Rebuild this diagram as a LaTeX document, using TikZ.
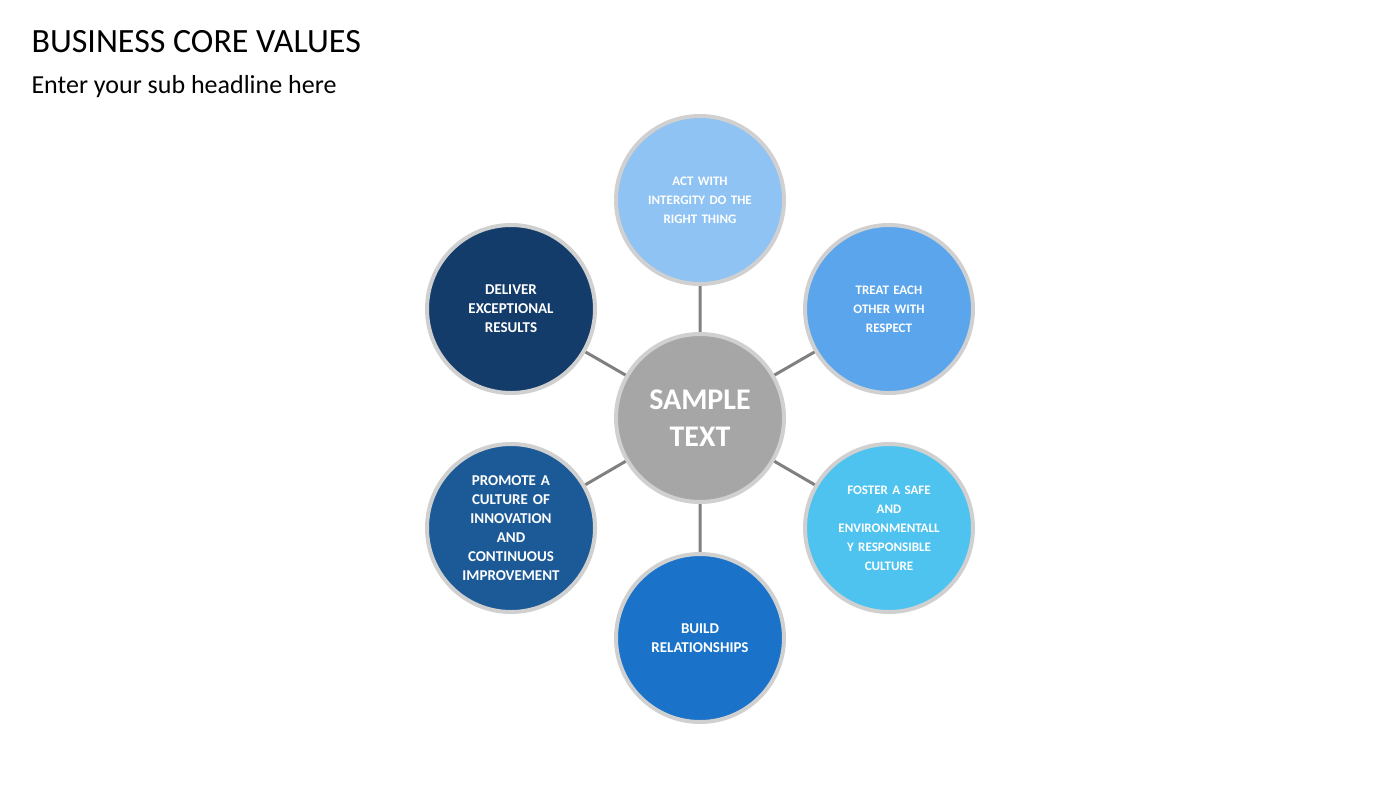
\documentclass[tikz,border=0pt]{standalone}
\usepackage{fontspec}
\setmainfont{Carlito}
\definecolor{cTop}{HTML}{8EC3F3}
\definecolor{cUR}{HTML}{5AA5EC}
\definecolor{cLR}{HTML}{4FC3F0}
\definecolor{cBot}{HTML}{1A73C9}
\definecolor{cLL}{HTML}{1B5A96}
\definecolor{cUL}{HTML}{133C6A}
\definecolor{cMid}{HTML}{A6A6A6}
\definecolor{rim}{HTML}{D0D0D0}
\begin{document}
\begin{tikzpicture}[x=1pt,y=-1pt,
  bub/.style={circle,minimum size=168pt,inner sep=0pt,draw=rim,line width=4pt,
    text=white,font=\bfseries\fontsize{13}{19}\selectfont,align=center,text width=115pt},
  link/.style={draw=black!50,line width=3pt}]
\useasboundingbox (0,0) rectangle (1400,788);
\node[anchor=west,font=\fontsize{34}{40}\selectfont] (title) at (28,42) {BUSINESS CORE VALUES};
\node[anchor=west,font=\fontsize{26}{30}\selectfont] (sub) at (28,87) {Enter your sub headline here};
\coordinate (pc) at (700,418);
\path[link] (pc) -- (700,200) (pc) -- (889,309) (pc) -- (889,528) (pc) -- (700,638) (pc) -- (511,528) (pc) -- (511,309);
\node[bub,fill=cTop] (a) at (700,200) {ACT WITH\\INTERGITY DO THE\\RIGHT THING};
\node[bub,fill=cUR] (b) at (889,309) {TREAT EACH\\OTHER WITH\\RESPECT};
\node[bub,fill=cLR] (c) at (889,528) {FOSTER A SAFE\\AND\\ENVIRONMENTALL\\Y RESPONSIBLE\\CULTURE};
\node[bub,fill=cBot,font=\bfseries\fontsize{15}{19}\selectfont] (d) at (700,638) {BUILD\\RELATIONSHIPS};
\node[bub,fill=cLL,font=\bfseries\fontsize{15}{19}\selectfont] (e) at (511,528) {PROMOTE A\\CULTURE OF\\INNOVATION\\AND\\CONTINUOUS\\IMPROVEMENT};
\node[bub,fill=cUL,font=\bfseries\fontsize{15}{19}\selectfont] (f) at (511,309) {DELIVER\\EXCEPTIONAL\\RESULTS};
\node[bub,fill=cMid,font=\bfseries\fontsize{30}{37}\selectfont] (m) at (pc) {SAMPLE\\TEXT};
\end{tikzpicture}
\end{document}
